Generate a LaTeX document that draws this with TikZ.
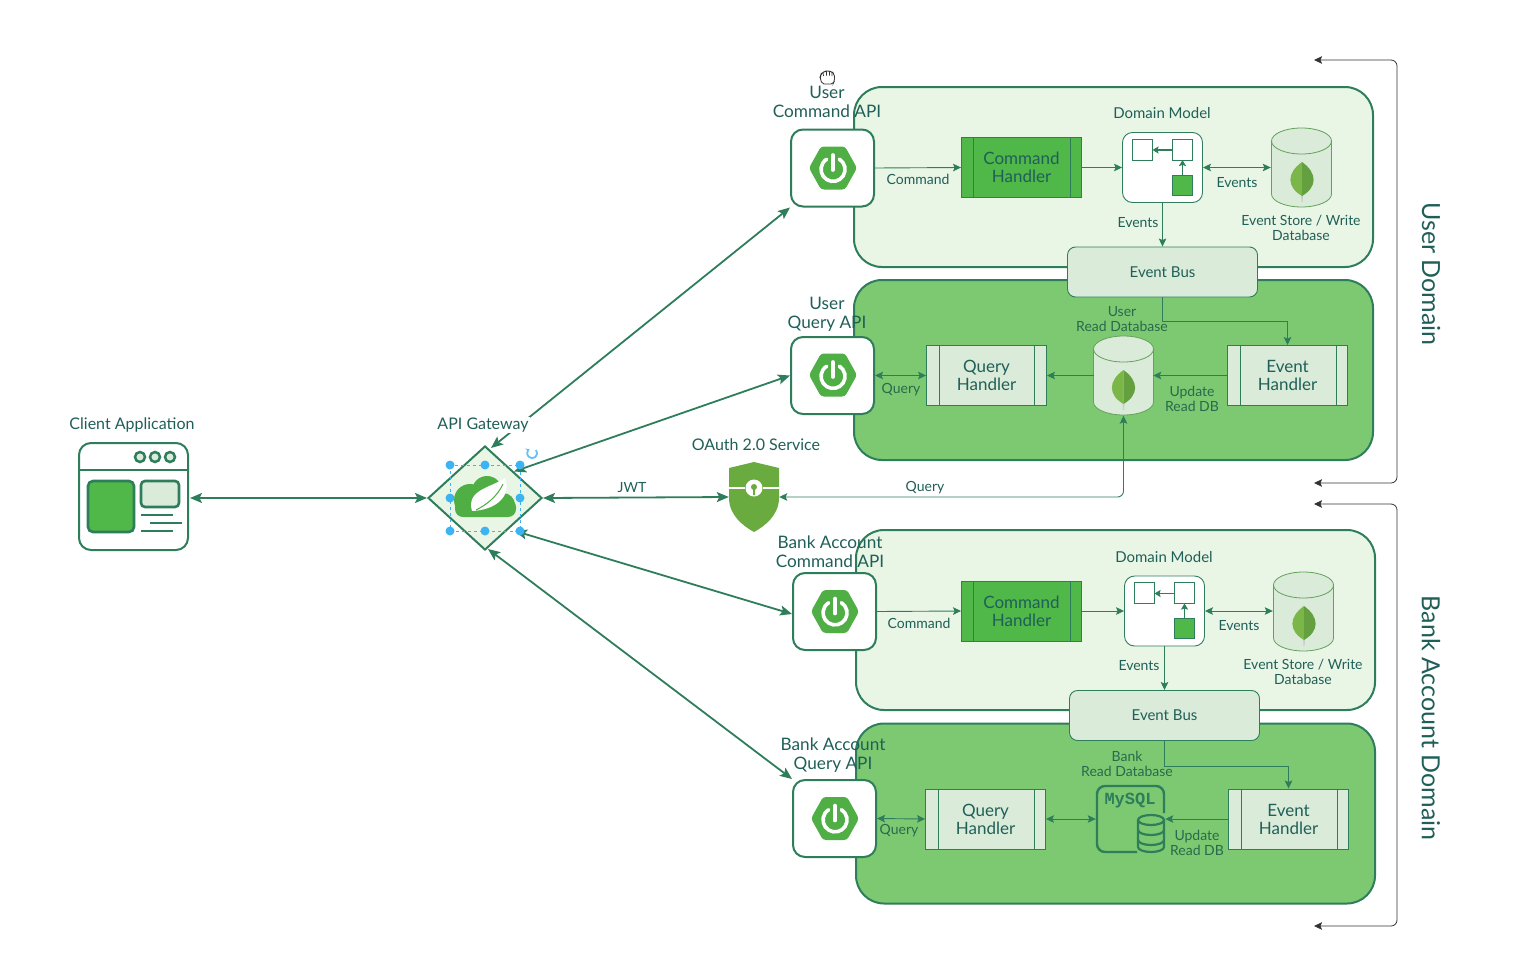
\documentclass[tikz,border=0pt]{standalone}
\usepackage{fontspec}
\setmainfont{Lato}
\newfontfamily\mysqlfont{Liberation Mono}
\usetikzlibrary{arrows.meta}
\usetikzlibrary{positioning}
\usetikzlibrary{shapes.geometric}
\definecolor{mline}{HTML}{2E7D5B}
\definecolor{mtext}{HTML}{1F5F58}
\definecolor{mpale}{HTML}{E9F6E6}
\definecolor{mmid}{HTML}{7DC971}
\definecolor{mgreen}{HTML}{4FB848}
\definecolor{mdb}{HTML}{DAEBDA}
\definecolor{mspring}{HTML}{4FAE44}
\definecolor{mleaf}{HTML}{7AB648}
\definecolor{mleafdark}{HTML}{64A03F}
\definecolor{mshield}{HTML}{6AAB3F}
\definecolor{mblue}{HTML}{3DB4F2}
\tikzset{>={Stealth[length=12pt,width=10pt,inset=2.5pt]}}
\tikzset{smalltext/.style = {text=mtext, align=center, font=\fontsize{14}{15}\selectfont, inner sep=0}}
\tikzset{lowertext/.style = {smalltext, text=mline!85!black}}
\tikzset{modeltext/.style = {smalltext, font=\fontsize{15}{15}\selectfont}}
\tikzset{midtext/.style = {smalltext, font=\fontsize{16}{17}\selectfont}}
\tikzset{bigtext/.style = {text=mtext, align=center, font=\fontsize{17.2}{19}\selectfont, inner sep=0}}
\tikzset{domaintext/.style = {rotate=-90, text=mtext, font=\fontsize{25}{27}\selectfont, inner sep=0}}
\tikzset{domainbox/.style = {draw=mline, line width=2pt, rounded corners=28pt, inner sep=0, minimum width=519, minimum height=180}}
\tikzset{apibox/.style = {draw=mline, fill=white, line width=2pt, rounded corners=12pt, inner sep=0, minimum width=83, minimum height=77}}
\tikzset{handlerbox/.style = {draw=mline, line width=0.9pt, inner sep=0, minimum width=120, minimum height=60, align=center, text=mtext, font=\fontsize{17}{18}\selectfont}}
\tikzset{busbox/.style = {draw=mline, fill=mdb, line width=0.9pt, rounded corners=8pt, inner sep=0, minimum width=190, minimum height=50, text=mtext, font=\fontsize{15}{15}\selectfont}}
\tikzset{modelbox/.style = {draw=mline, fill=white, line width=0.9pt, rounded corners=10pt, inner sep=0, minimum width=80, minimum height=70}}
\tikzset{thinlink/.style = {draw=mline, line width=0.9pt, >={Stealth[length=8pt,width=7.5pt,inset=1.5pt]}}}
\tikzset{thicklink/.style = {draw=mline, line width=1.8pt}}
\tikzset{bracket/.style = {draw=black!80, line width=0.8pt, rounded corners=6pt, >={Stealth[length=8pt,width=7.5pt,inset=1.5pt]}}}
\tikzset{handledot/.style = {fill=mblue, circle, inner sep=0, minimum size=9}}
\tikzset{blankbox/.style = {inner sep=0, minimum width=#1}}
\tikzset{
  springicon/.pic = {
    \fill [mspring, rounded corners=3pt] (-24, 0) -- (-12, -21.5) -- (12, -21.5) -- (24, 0) -- (12, 21.5) -- (-12, 21.5) -- cycle;
    \draw [white, line width=3.6pt, line cap=round] (6.4, -8.8) arc [start angle=58, end angle=-238, radius=12pt];
    \draw [white, line width=3.6pt, line cap=round] (0, -13) -- (0, 2);
  },
  leaficon/.pic = {
    \fill [black!20] (-1, 14) -- (1, 14) -- (0.6, 23) -- (-0.6, 23) -- cycle;
    \fill [mleaf] (0, -17) .. controls (-15.5, -6) and (-15.5, 8) .. (0, 17) -- cycle;
    \fill [mleafdark] (0, -17) .. controls (15.5, -6) and (15.5, 8) .. (0, 17) -- cycle;
  },
  dbicon/.pic = {
    \draw [draw=black!20!mmid, fill=mdb, line width=0.8pt] (-30, -26) -- (-30, 27) arc [start angle=180, end angle=360, x radius=30pt, y radius=13pt] -- (30, -26) arc [start angle=0, end angle=180, x radius=30pt, y radius=13pt] -- cycle;
    \draw [draw=black!20!mmid, line width=0.8pt] (-30, -26) arc [start angle=180, end angle=360, x radius=30pt, y radius=13pt];
  },
  modelicon/.pic = {
    \draw [mline, line width=0.9pt] (-30, -29) rectangle (-10, -8);
    \draw [mline, line width=0.9pt] (10, -29) rectangle (30, -8);
    \draw [mline, fill=mgreen, line width=0.9pt] (10, 7) rectangle (30, 27);
    \draw [mline, line width=1.4pt, -{Stealth[length=6pt,width=7pt,inset=1pt]}] (10, -18) -- (-10, -18);
    \draw [mline, line width=1.4pt, -{Stealth[length=6pt,width=7pt,inset=1pt]}] (20, 7) -- (20, -8);
  }
}
\begin{document}
\begin{tikzpicture}[x=1pt, y=-1pt]
      \useasboundingbox (0, 0) rectangle (1517, 969);

      % user domain
      \node [domainbox, fill=mpale] (userTop) at (1113.5, 177) {};
      \node [domainbox, fill=mmid] (userBottom) at (1113.5, 370) {};
      \node [bigtext] (userCmdLabel) at (827, 102) {User\\Command API};
      \node [bigtext] (userQueryLabel) at (827, 314) {User\\Query API};
      \node [apibox] (userCmd) at (832.5, 168) {};
      \node [apibox] (userQuery) at (832.5, 375.5) {};
      \pic at (833, 168) {springicon};
      \pic at (833, 375) {springicon};
      \node [handlerbox, fill=mgreen] (userCmdHandler) at (1021.5, 167.5) {Command\\Handler};
      \draw [mline, line width=0.9pt] (973, 137.5) -- (973, 197.5) (1070, 137.5) -- (1070, 197.5);
      \node [modelbox] (userModel) at (1162.5, 167.5) {};
      \pic at (1162.5, 168) {modelicon};
      \node [blankbox=61, minimum height=80] (userStore) at (1301.5, 167.5) {};
      \pic at (1301.5, 167) {dbicon};
      \pic at (1302, 179) {leaficon};
      \node [busbox] (userBus) at (1162.5, 272) {Event Bus};
      \node [handlerbox, fill=mdb] (userQueryHandler) at (986.5, 375.5) {Query\\Handler};
      \draw [mline, line width=0.9pt] (939, 345.5) -- (939, 405.5) (1034, 345.5) -- (1034, 405.5);
      \node [handlerbox, fill=mdb] (userEventHandler) at (1287.5, 375.5) {Event\\Handler};
      \draw [mline, line width=0.9pt] (1240, 345.5) -- (1240, 405.5) (1336, 345.5) -- (1336, 405.5);
      \node [blankbox=59, minimum height=80] (userRead) at (1123.5, 375.5) {};
      \pic at (1123.5, 375) {dbicon};
      \pic at (1123.5, 387) {leaficon};

      \draw [thinlink, ->] (userCmd.east) -- (userCmdHandler.west);
      \draw [thinlink, ->] (userCmdHandler.east) -- (userModel.west);
      \draw [thinlink, <->] (userModel.east) -- (userStore.west);
      \draw [thinlink, ->] (userModel.south) -- (userBus.north);
      \draw [thinlink, ->] (userBus.south) -- ++(0, 24) -| (userEventHandler.north);
      \draw [thinlink, ->] (userEventHandler.west) -- (userRead.east);
      \draw [thinlink, ->] (userRead.west) -- (userQueryHandler.east);
      \draw [thinlink, <->] (userQueryHandler.west) -- (userQuery.east);

      \node [modeltext] (userModelLabel) at (1162, 113) {Domain Model};
      \node [smalltext] (userCmdArrow) at (918, 179) {Command};
      \node [smalltext] (userEventsA) at (1237, 183) {Events};
      \node [smalltext] (userEventsB) at (1138, 223) {Events};
      \node [smalltext] (userStoreLabel) at (1301, 228) {Event Store / Write\\Database};
      \node [lowertext] (userReadLabel) at (1122, 319) {User\\Read Database};
      \node [lowertext] (userQueryArrow) at (901, 390) {Query};
      \node [lowertext] (userUpdate) at (1192, 399) {Update\\Read DB};

      % bank account domain
      \node [domainbox, fill=mpale] (bankTop) at (1115.5, 620) {};
      \node [domainbox, fill=mmid] (bankBottom) at (1115.5, 813.5) {};
      \node [bigtext] (bankCmdLabel) at (830, 551.5) {Bank Account\\Command API};
      \node [bigtext] (bankQueryLabel) at (833, 755.5) {Bank Account\\Query API};
      \node [apibox] (bankCmd) at (834.5, 611.5) {};
      \node [apibox] (bankQuery) at (834.5, 818.5) {};
      \pic at (835, 611.5) {springicon};
      \pic at (835, 818.5) {springicon};
      \node [handlerbox, fill=mgreen] (bankCmdHandler) at (1021.5, 611) {Command\\Handler};
      \draw [mline, line width=0.9pt] (973, 581) -- (973, 641) (1070, 581) -- (1070, 641);
      \node [modelbox] (bankModel) at (1164.5, 611) {};
      \pic at (1164.5, 611.5) {modelicon};
      \node [blankbox=61, minimum height=80] (bankStore) at (1303.5, 611) {};
      \pic at (1303.5, 611) {dbicon};
      \pic at (1304, 623) {leaficon};
      \node [busbox] (bankBus) at (1164.5, 715.5) {Event Bus};
      \node [handlerbox, fill=mdb] (bankQueryHandler) at (985.5, 819) {Query\\Handler};
      \draw [mline, line width=0.9pt] (938, 789) -- (938, 849) (1034, 789) -- (1034, 849);
      \node [handlerbox, fill=mdb] (bankEventHandler) at (1288.5, 819) {Event\\Handler};
      \draw [mline, line width=0.9pt] (1241, 789) -- (1241, 849) (1337, 789) -- (1337, 849);
      \node [blankbox=69, minimum height=68] (bankRead) at (1130.5, 819) {};
      \draw [mline, line width=2.4pt, rounded corners=8pt] (1137, 852) -- (1097, 852) -- (1097, 786) -- (1164, 786) -- (1164, 813);
      \node [text=mline, font=\mysqlfont\bfseries\fontsize{17}{17}\selectfont, inner sep=0] (mysqlLabel) at (1130, 801) {MySQL};
      \draw [mline, fill=mmid, line width=2.2pt] (1138, 820) -- (1138, 847) arc [start angle=180, end angle=360, x radius=13pt, y radius=5pt] -- (1164, 820) arc [start angle=0, end angle=360, x radius=13pt, y radius=5pt];
      \draw [mline, line width=2.2pt] (1138, 830) arc [start angle=180, end angle=360, x radius=13pt, y radius=5pt] (1138, 840) arc [start angle=180, end angle=360, x radius=13pt, y radius=5pt];

      \draw [thinlink, ->] (bankCmd.east) -- (bankCmdHandler.west);
      \draw [thinlink, ->] (bankCmdHandler.east) -- (bankModel.west);
      \draw [thinlink, <->] (bankModel.east) -- (bankStore.west);
      \draw [thinlink, ->] (bankModel.south) -- (bankBus.north);
      \draw [thinlink, ->] (bankBus.south) -- ++(0, 25) -| (bankEventHandler.north);
      \draw [thinlink, ->] (bankEventHandler.west) -- (bankRead.east);
      \draw [thinlink, <->] (bankRead.west) -- (bankQueryHandler.east);
      \draw [thinlink, <->] (bankQueryHandler.west) -- (bankQuery.east);

      \node [modeltext] (bankModelLabel) at (1164, 557) {Domain Model};
      \node [smalltext] (bankCmdArrow) at (919, 623) {Command};
      \node [smalltext] (bankEventsA) at (1239, 626) {Events};
      \node [smalltext] (bankEventsB) at (1139, 666) {Events};
      \node [smalltext] (bankStoreLabel) at (1303, 672) {Event Store / Write\\Database};
      \node [lowertext] (bankReadLabel) at (1127, 764) {Bank\\Read Database};
      \node [lowertext] (bankQueryArrow) at (899, 831) {Query};
      \node [lowertext] (bankUpdate) at (1197, 843) {Update\\Read DB};

      % client
      \node [draw=mline, fill=white, line width=2pt, rounded corners=12pt, inner sep=0, minimum width=109, minimum height=107] (client) at (133.5, 496.5) {};
      \draw [mline, line width=2pt] (79, 470) -- (188, 470);
      \foreach \x in {140, 155, 170} {
        \draw [mline, fill=mdb, line width=2.5pt] (\x, 457) circle [radius=5pt];
      }
      \draw [mline, fill=mgreen, line width=2.6pt, rounded corners=5pt] (88, 481) rectangle (134, 532);
      \draw [mline, fill=mdb, line width=2.6pt, rounded corners=4pt] (141, 481) rectangle (179, 507);
      \draw [mline, line width=2pt] (141, 515) -- (173, 515) (150, 523) -- (182, 523) (141, 531) -- (173, 531);
      \node [midtext] (clientLabel) at (132, 425) {Client Application};
      \coordinate (clientPort) at (190, 498);

      % gateway
      \node [diamond, draw=mline, fill=mpale, line width=2pt, inner sep=0, minimum width=114, minimum height=104] (gateway) at (485, 498) {};
      \fill [mspring] (470, 500) circle [radius=16pt] (487, 491) circle [radius=15pt] (503, 505) circle [radius=12pt];
      \fill [mspring, rounded corners=8pt] (455, 499) rectangle (516, 517);
      \fill [white] (472, 511) .. controls (466, 490) and (490, 488) .. (505, 478) .. controls (512, 495) and (497, 510) .. (472, 511) -- cycle;
      \draw [mspring, line width=1pt] (476, 510) .. controls (486, 505) and (497, 497) .. (503, 484);
      \coordinate (gatewayTop) at (491, 448);
      \coordinate (gatewayCorner) at (515, 531);
      \coordinate (gatewayBottom) at (488, 549);
      \coordinate (bankCmdPort) at (792, 614);

      % oauth
      \node [inner sep=0, minimum width=50, minimum height=70] (oauth) at (754, 497) {};
      \fill [mshield] (729, 468) -- (754, 462) -- (779, 468) -- (779, 498) .. controls (779, 515) and (765, 526) .. (754, 532) .. controls (743, 526) and (729, 515) .. (729, 498) -- cycle;
      \draw [white, line width=1.6pt] (729, 488) -- (745, 488) (763, 488) -- (779, 488);
      \fill [white] (754, 488) circle [radius=8.5pt];
      \fill [mshield] (754, 487) circle [radius=3pt] (753, 487) rectangle (755, 495);

      \node [midtext] (oauthLabel) at (756, 445) {OAuth 2.0 Service};

      % links of the gateway
      \draw [thicklink, <->] (clientPort) -- (gateway.west);
      \draw [thicklink, <->] (gatewayTop) -- (userCmd.south west);
      \draw [thicklink, <->] (gateway.north east) -- (userQuery.west);
      \draw [thicklink, <->] (gateway.east) -- (oauth.west);
      \draw [thicklink, <->] (gatewayCorner) -- (bankCmdPort);
      \draw [thicklink, <->] (gatewayBottom) -- (bankQuery.north west);
      \draw [thinlink, <->, rounded corners=6pt] (userRead.south) |- (oauth.east);
      \node [midtext, fill=white, inner sep=1pt] (gatewayLabel) at (483, 425) {API Gateway};
      \node [smalltext] (jwtLabel) at (632, 488) {JWT};
      \node [smalltext] (queryLabel) at (925, 488) {Query};

      % selection marks
      \draw [mblue, dashed, line width=0.6pt] (450, 465) rectangle (520, 531);
      \foreach \x/\y in {450/465, 485/465, 520/465, 450/498, 520/498, 450/531, 485/531, 520/531} {
        \node [handledot] at (\x, \y) {};
      }
      \draw [mblue!80, line width=1.8pt, -{Stealth[length=4pt,width=5pt]}] (536, 450) arc [start angle=40, end angle=-240, radius=5pt];
      \draw [black!80, fill=white, line width=0.8pt, rounded corners=2pt] (822, 84) -- (820, 77) -- (821, 74) -- (823, 72.5) -- (825, 71) -- (827, 71) -- (829, 71) -- (832, 72) -- (834.5, 74) -- (834.5, 81) -- (833, 84) -- cycle;
      \draw [black!80, line width=0.7pt] (823, 72.5) -- (823.5, 76) (826.5, 71) -- (826.5, 75.5) (829.5, 71) -- (829.5, 75.5) (832, 72) -- (832, 76);

      % domain brackets
      \coordinate (userArrowA) at (1314, 60);
      \coordinate (userArrowB) at (1314, 483);
      \coordinate (bankArrowA) at (1314, 504);
      \coordinate (bankArrowB) at (1314, 926);
      \draw [bracket, <->] (userArrowA) -- (1397, 60) -- (1397, 483) -- (userArrowB);
      \draw [bracket, <->] (bankArrowA) -- (1397, 504) -- (1397, 926) -- (bankArrowB);
      \node [domaintext] (userDomain) at (1431, 274) {User Domain};
      \node [domaintext] (bankDomain) at (1431, 718) {Bank Account Domain};
\end{tikzpicture}
\end{document}
